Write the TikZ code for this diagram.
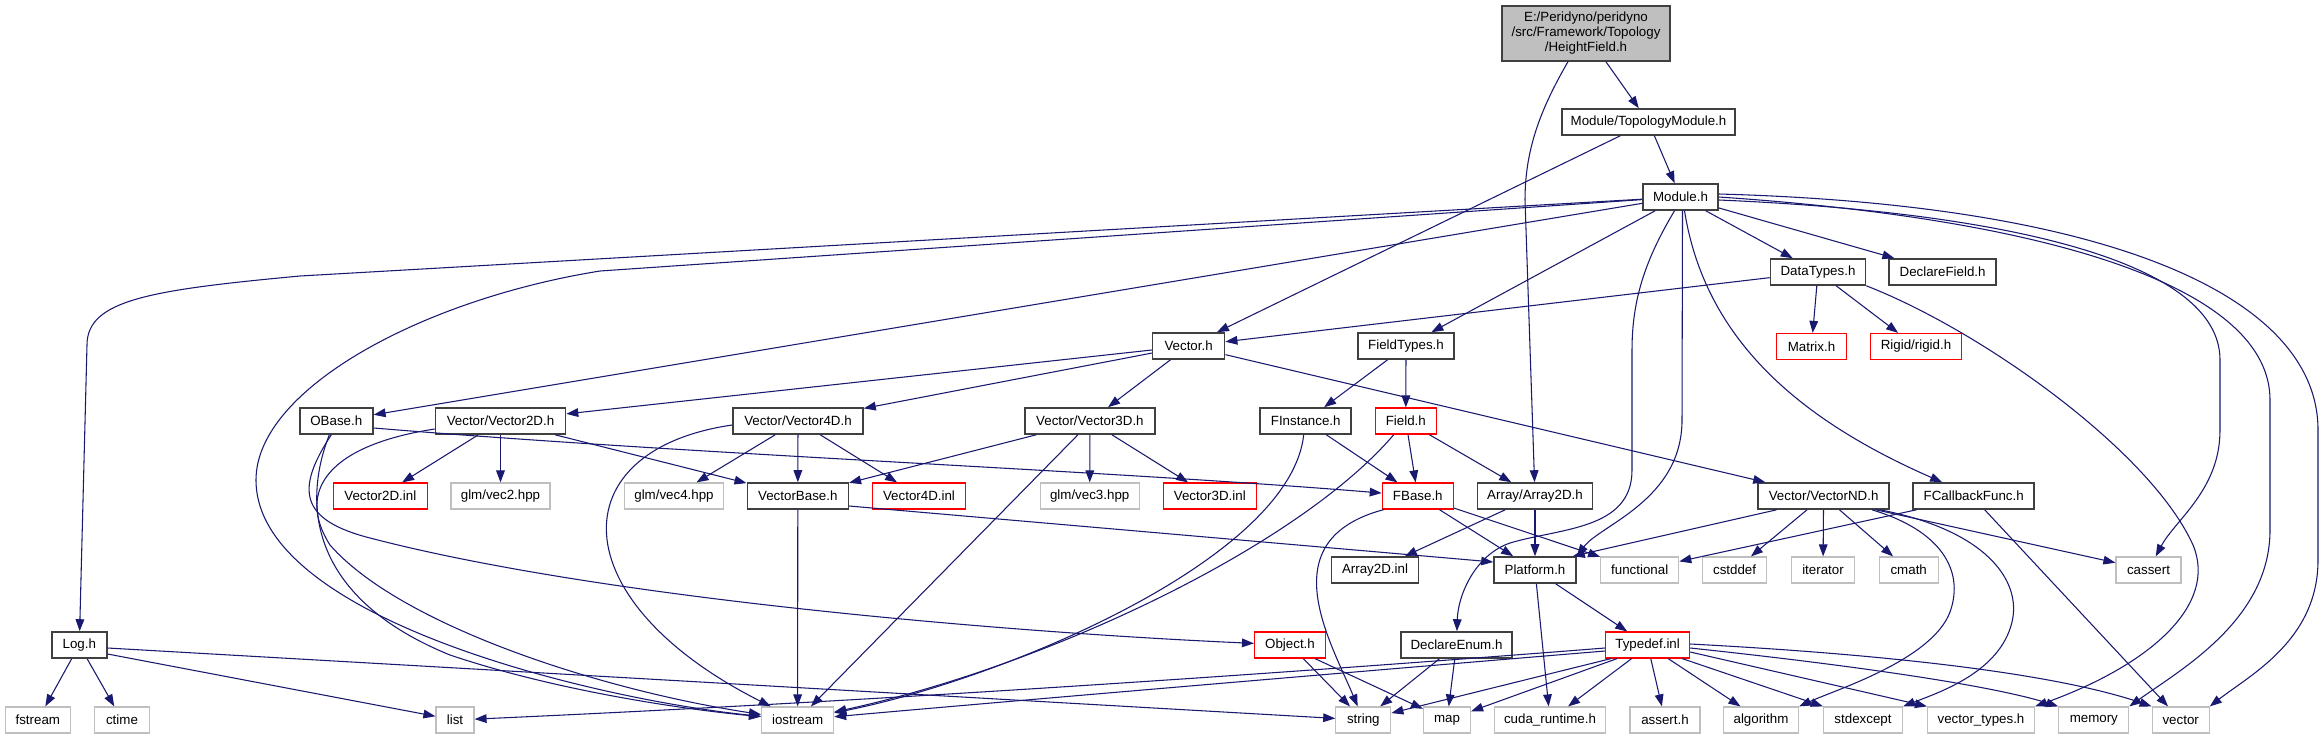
\documentclass[tikz,border=0pt]{standalone}
\usepackage{fontspec}
\setmainfont{Liberation Sans}
\usetikzlibrary{arrows.meta, calc}
\definecolor{edgeblue}{HTML}{191970}
\definecolor{docgray}{HTML}{404040}
\definecolor{sysgray}{HTML}{BFBFBF}

\begin{document}
\begin{tikzpicture}[
  x=0.75pt, y=-0.75pt,
  box/.style={rectangle, minimum height=19.5pt, inner sep=0pt,
    font=\fontsize{10}{11.25}\selectfont},
  bw/.style={minimum width=#1*0.75pt},
  doc/.style={box, draw=docgray, line width=1.2pt},
  undoc/.style={box, draw=red, line width=0.9pt},
  sys/.style={box, draw=sysgray, line width=0.9pt},
  dep/.style={draw=edgeblue, line width=0.8pt, -{Triangle[length=9pt, width=6.5pt]}}
]
  \path[fill=white] (0,0) rectangle (2323,739);
  \useasboundingbox (0,0) rectangle (2323,739);

  % Top: the file itself and its direct includes
  \node[box, draw=docgray, fill=sysgray, line width=1pt, bw=168,
    minimum height=41.25pt, align=center] (root) at (1586,33.5)
    {E:/Peridyno/peridyno\\/src/Framework/Topology\\/HeightField.h};
  \node[doc, bw=173] (topo) at (1648.5,122) {Module/TopologyModule.h};
  \node[doc, bw=75] (module) at (1680.5,197) {Module.h};

  % Row 3 and 4
  \node[doc, bw=95] (datatypes) at (1818,272) {DataTypes.h};
  \node[doc, bw=107] (declfield) at (1942.6,272) {DeclareField.h};
  \node[doc, bw=72] (vector) at (1188.6,346) {Vector.h};
  \node[doc, bw=96] (fieldtypes) at (1406,346) {FieldTypes.h};
  \node[undoc, bw=70] (matrix) at (1811.5,346.5) {Matrix.h};
  \node[undoc, bw=91] (rigid) at (1916,346.5) {Rigid/rigid.h};

  % Row 5
  \node[doc, bw=73] (obase) at (336.3,421) {OBase.h};
  \node[doc, bw=130] (vec2d) at (500.5,421) {Vector/Vector2D.h};
  \node[doc, bw=130] (vec4d) at (798,421) {Vector/Vector4D.h};
  \node[doc, bw=130] (vec3d) at (1089.9,421) {Vector/Vector3D.h};
  \node[doc, bw=91] (finstance) at (1305.7,421) {FInstance.h};
  \node[undoc, bw=61] (field) at (1405.8,421) {Field.h};

  % Row 6
  \node[undoc, bw=94] (vec2dinl) at (380.3,496) {Vector2D.inl};
  \node[sys, bw=99] (glmvec2) at (500.5,496) {glm/vec2.hpp};
  \node[sys, bw=99] (glmvec4) at (674,496) {glm/vec4.hpp};
  \node[doc, bw=101] (vecbase) at (797.8,496) {VectorBase.h};
  \node[undoc, bw=93] (vec4dinl) at (919,496) {Vector4D.inl};
  \node[sys, bw=99] (glmvec3) at (1089.7,496) {glm/vec3.hpp};
  \node[undoc, bw=93] (vec3dinl) at (1209.8,496) {Vector3D.inl};
  \node[undoc, bw=71] (fbase) at (1417.8,496) {FBase.h};
  \node[doc, bw=115] (array2d) at (1535,496) {Array/Array2D.h};
  \node[doc, bw=131] (vecnd) at (1823.6,496) {Vector/VectorND.h};
  \node[doc, bw=121] (fcallback) at (1973.7,496) {FCallbackFunc.h};

  % Row 7
  \node[doc, bw=87] (array2dinl) at (1375,570) {Array2D.inl};
  \node[doc, bw=82] (platform) at (1535,570) {Platform.h};
  \foreach \name/\x/\w in {functional/1639.7/78, cstddef/1734.6/64,
      iterator/1823/63, cmath/1908.7/59, cassert/2148.5/65}
    \node[sys, bw=\w] (\name) at (\x,570) {\name};

  % Row 8
  \node[doc, bw=55] (log) at (79.3,645) {Log.h};
  \node[undoc, bw=71] (object) at (1290,645) {Object.h};
  \node[doc, bw=111] (declenum) at (1456.5,645) {DeclareEnum.h};
  \node[undoc, bw=84] (typedef) at (1647.6,645) {Typedef.inl};

  % Bottom row: system headers
  \foreach \name/\x/\w/\txt in {fstream/37.8/65/fstream, ctime/122/55/ctime,
      list/455/38/list, iostream/797.6/72/iostream, string/1363.3/55/string,
      map/1447/47/map, cuda/1550/111/cuda\_runtime.h, asserth/1665/70/assert.h,
      algorithm/1761/75/algorithm, stdexcept/1863/79/stdexcept,
      vectypes/1981/107/vector\_types.h, memory/2093.8/70/memory,
      vectorh/2180.7/57/vector}
    \node[sys, bw=\w] (\name) at (\x,720) {\txt};

  % Root includes
  \draw[dep] (root) -- (topo);
  \draw[dep] ($(root.south)+(-18,0)$) .. controls (1540,110) and (1525,150) .. (1525,200) -- (array2d);
  \draw[dep] (topo) -- (module);
  \draw[dep] (topo) -- (vector);

  % Module.h
  \draw[dep] (module) -- (300,276) .. controls (150,290) and (87,300) .. (87,345) -- (log);
  \draw[dep] (module) -- (600,271) .. controls (420,300) and (256,390) .. (256,480)
    .. controls (256,620) and (600,700) .. (iostream);
  \draw[dep] (module) -- (obase);
  \draw[dep] (module) -- (fieldtypes);
  \draw[dep] (module) -- (datatypes);
  \draw[dep] (module) -- (declfield);
  \draw[dep] ($(module.south)+(-6,0)$) .. controls (1645,260) and (1632,300) .. (1632,350) -- (1632,470)
    .. controls (1632,530) and (1560,528) .. (1510,543) .. controls (1475,555) and (1458,595) .. (declenum);
  \draw[dep] ($(module.south)+(2,0)$) -- (1682,420) .. controls (1682,500) and (1600,525) .. (platform.north east);
  \draw[dep] ($(module.south)+(4,0)$) .. controls (1705,340) and (1800,420) .. (fcallback);
  \draw[dep] ($(module.east)+(0,3)$) .. controls (2000,212) and (2220,260) .. (2220,360) -- (2220,430)
    .. controls (2220,490) and (2175,520) .. (cassert);
  \draw[dep] (module.east) .. controls (2060,220) and (2270,290) .. (2270,400) -- (2270,530)
    .. controls (2270,620) and (2180,670) .. (memory.north east);
  \draw[dep] ($(module.east)+(0,-3)$) .. controls (2120,205) and (2318,300) .. (2318,430) -- (2318,560)
    .. controls (2318,640) and (2250,675) .. (vectorh.north east);

  % DataTypes.h
  \draw[dep] (datatypes) -- (vector);
  \draw[dep] (datatypes) -- (matrix);
  \draw[dep] (datatypes) -- (rigid);
  \draw[dep] (datatypes.south east) .. controls (1980,330) and (2150,450) .. (2193,545)
    .. controls (2218,605) and (2150,665) .. (vectypes.north east);

  % Vector.h and FieldTypes.h
  \foreach \dst in {vec2d, vec4d, vec3d, vecnd}
    \draw[dep] (vector) -- (\dst);
  \draw[dep] (fieldtypes) -- (finstance);
  \draw[dep] (fieldtypes) -- (field);

  % OBase.h
  \draw[dep] ($(obase.east)+(0,7)$) .. controls (700,455) and (1100,470) .. (fbase);
  \draw[dep] ($(obase.south)+(-7,0)$) .. controls (300,510) and (315,600) .. (450,655)
    .. controls (560,692) and (690,710) .. (iostream);
  \draw[dep] ($(obase.south)+(-5,0)$) .. controls (295,490) and (300,520) .. (370,538)
    .. controls (600,598) and (1000,632) .. (object);

  % Vector headers
  \foreach \dst in {vec2dinl, glmvec2, vecbase}
    \draw[dep] (vec2d) -- (\dst);
  \draw[dep] ($(vec2d.west)+(0,8)$) .. controls (330,445) and (295,490) .. (330,545)
    .. controls (400,625) and (600,690) .. (iostream);
  \foreach \dst in {glmvec4, vecbase, vec4dinl}
    \draw[dep] (vec4d) -- (\dst);
  \draw[dep] ($(vec4d.west)+(0,4)$) .. controls (560,450) and (560,600) .. (iostream);
  \foreach \dst in {vecbase, glmvec3, vec3dinl}
    \draw[dep] (vec3d) -- (\dst);
  \draw[dep] ($(vec3d.south)+(-12,0)$) -- (iostream);
  \draw[dep] (vecbase) -- (iostream);
  \draw[dep] ($(vecbase.east)+(0,10)$) -- ($(platform.west)+(0,-8)$);

  % Fields
  \draw[dep] (finstance) -- (fbase);
  \draw[dep] ($(finstance.south)+(-2,0)$) .. controls (1290,560) and (1000,680) .. (iostream);
  \draw[dep] (field) -- (fbase);
  \draw[dep] (field) -- (array2d);
  \draw[dep] ($(field.south)+(-12,0)$) .. controls (1300,545) and (1050,665) .. (iostream);
  \draw[dep] ($(fbase.south west)+(2,0)$) .. controls (1270,540) and (1330,640) .. (string);
  \draw[dep] (fbase) -- (platform);
  \draw[dep] (fbase) -- (functional);
  \draw[dep] (array2d) -- (array2dinl);
  \draw[dep] (array2d) -- (platform);

  % VectorND.h and FCallbackFunc.h
  \draw[dep] ($(vecnd.south)+(-47,0)$) -- ($(platform.north east)+(-4,0)$);
  \foreach \dst in {cstddef, iterator, cmath}
    \draw[dep] (vecnd) -- (\dst);
  \draw[dep] ($(vecnd.south east)+(-18,0)$) .. controls (1940,530) and (1965,570) .. (1950,612)
    .. controls (1932,660) and (1835,690) .. (algorithm.north east);
  \draw[dep] ($(vecnd.south east)+(-10,0)$) .. controls (1985,530) and (2022,580) .. (2012,622)
    .. controls (2000,672) and (1940,692) .. (stdexcept.north east);
  \draw[dep] ($(vecnd.south east)+(-14,0)$) -- (cassert);
  \draw[dep] ($(fcallback.south west)+(4,0)$) -- (functional);
  \draw[dep] ($(fcallback.south)+(11,0)$) -- (vectorh);

  % Platform.h and Typedef.inl
  \draw[dep] (platform) -- (cuda);
  \draw[dep] (platform) -- (typedef);
  \draw[dep] ($(typedef.south west)+(6,0)$) -- (string);
  \draw[dep] ($(typedef.south west)+(12,0)$) -- (map);
  \draw[dep] ($(typedef.south)+(-16,0)$) -- (cuda);
  \draw[dep] (typedef) -- (asserth);
  \draw[dep] (typedef) -- (algorithm);
  \draw[dep] ($(typedef.south east)+(-8,0)$) -- (stdexcept);
  \draw[dep] ($(typedef.east)+(0,7)$) -- (vectypes.north west);
  \draw[dep] ($(typedef.east)+(0,3)$) .. controls (1850,665) and (1990,685) .. (memory.north west);
  \draw[dep] ($(typedef.east)+(0,-1)$) .. controls (1900,655) and (2060,675) .. (vectorh.north west);
  \draw[dep] ($(typedef.west)+(0,3)$) .. controls (1300,672) and (900,700) .. (list);
  \draw[dep] ($(typedef.west)+(0,6)$) .. controls (1400,668) and (1000,702) .. (iostream);

  % Log.h, Object.h, DeclareEnum.h
  \draw[dep] (log) -- (fstream);
  \draw[dep] (log) -- (ctime);
  \draw[dep] ($(log.east)+(0,9)$) -- (list);
  \draw[dep] ($(log.east)+(0,3)$) -- (string);
  \draw[dep] (object) -- (string);
  \draw[dep] ($(object.south)+(25,0)$) -- (map);
  \draw[dep] (declenum) -- (string);
  \draw[dep] (declenum) -- (map);
\end{tikzpicture}
\end{document}
